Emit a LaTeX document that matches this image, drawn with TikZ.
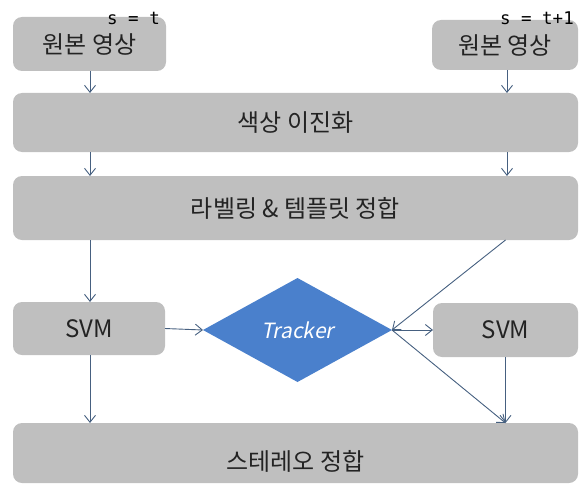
\documentclass[tikz,border=0pt]{standalone}
\usepackage{fontspec}
\setmainfont{Noto Sans CJK KR}
\newfontfamily\trkfont[FakeSlant=0.2]{Noto Sans CJK KR}
\newfontfamily\monofont{DejaVu Sans Mono}
\usetikzlibrary{arrows.meta,shapes.geometric}
\definecolor{boxgray}{RGB}{191,191,191}
\definecolor{arrowc}{RGB}{70,96,128}
\definecolor{trkblue}{RGB}{74,128,204}
\definecolor{txtc}{RGB}{35,35,35}
\begin{document}
\begin{tikzpicture}[x=1pt,y=-1pt,
  box/.style={fill=boxgray, rounded corners=9pt, inner sep=0pt, outer sep=0pt,
    text=txtc, font=\fontsize{24}{28}\selectfont},
  lbl/.style={text=txtc, font=\fontsize{24}{28}\selectfont, inner sep=0pt},
  stime/.style={text=black, font=\monofont\fontsize{17.5}{20}\selectfont, inner sep=0pt, anchor=base east},
  arr/.style={draw=arrowc, line width=0.9pt, -{Straight Barb[length=7pt,width=11pt]}}
]
\useasboundingbox (0,0) rectangle (585,484);

\node[box, minimum width=153, minimum height=54] (topL) at (89.5,44) {원본 영상};
\node[box, minimum width=146, minimum height=50] (topR) at (505,45) {원본 영상};
\node[stime] (sL) at (160,25) {s = t};
\node[stime] (sR) at (574,25) {s = t+1};

\node[box, minimum width=565, minimum height=59] (band1) at (295.5,122.5) {색상 이진화};
\node[box, minimum width=565, minimum height=64] (band2) at (295.5,208) {라벨링 \& 템플릿 정합};

\node[box, minimum width=152, minimum height=53] (svmL) at (89,328.5) {SVM};
\node[box, minimum width=145, minimum height=54] (svmR) at (505.5,330) {SVM};
\node[diamond, fill=trkblue, inner sep=0pt, outer sep=0pt, minimum width=189, minimum height=104,
  text=white, font=\trkfont\fontsize{21}{24}\selectfont] (trk) at (297.5,330) {Tracker};

\node[box, minimum width=565, minimum height=60] (band3) at (295.5,453) {};
\node[lbl] (band3t) at (295.5,461) {스테레오 정합};

% connectors
\draw[arr] (topL.south -| 90,0) -- (band1.north -| 90,0);
\draw[arr] (topR.south -| 507,0) -- (band1.north -| 507,0);
\draw[arr] (band1.south -| 90,0) -- (band2.north -| 90,0);
\draw[arr] (band1.south -| 507,0) -- (band2.north -| 507,0);
\draw[arr] (band2.south -| 90,0) -- (svmL.north -| 90,0);
\draw[arr] (band2.south -| svmR.south) -- (trk.east);
\draw[arr] (svmL.east) -- (trk.west);
\draw[arr] (trk.east) -- (svmR.west);
\draw[arr] (trk.east) -- (band3.north -| svmR.south);
\draw[arr] (svmR.south) -- (band3.north -| svmR.south);
\draw[arr] (svmL.south -| 90,0) -- (band3.north -| 90,0);
\end{tikzpicture}
\end{document}
